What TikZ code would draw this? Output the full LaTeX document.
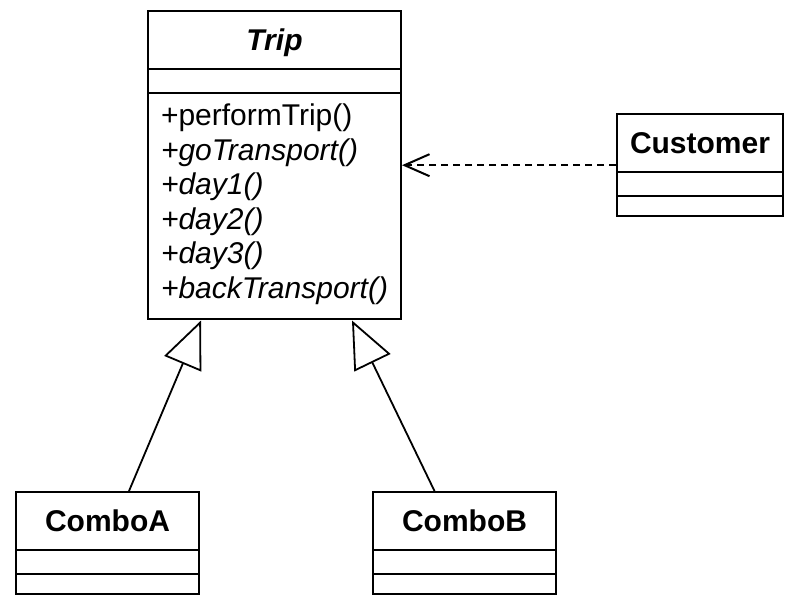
\documentclass[tikz,border=0pt]{standalone}
\usepackage{fontspec}
\setmainfont{Liberation Sans}
\usetikzlibrary{shapes.multipart,arrows.meta}
\tikzset{
	umlclass/.style={draw, line width=1pt, rectangle split, rectangle split parts=3,
		rectangle split part align={center,left,left}, align=left, anchor=north west,
		inner xsep=6.5pt, inner ysep=0pt, minimum width=#1,
		font=\fontsize{15}{17.25}\selectfont},
	inherit/.style={line width=0.9pt, -{Triangle[open,length=23.5pt,width=20pt]}},
	depend/.style={line width=1pt, dash pattern=on 3.5pt off 2.5pt,
		-{Straight Barb[length=12.5pt,width=11pt]}},
}
\newcommand{\titlestrut}{\rule[-8.45pt]{0pt}{27.9pt}}
\newcommand{\attrstrut}{\rule{0pt}{10.9pt}}
\newcommand{\opstrut}{\rule{0pt}{9.4pt}}
\begin{document}
\begin{tikzpicture}[x=0.5pt,y=-0.5pt]
	\useasboundingbox (0,0) rectangle (787,603);
	% abstract class
	\node[umlclass=126.5pt] (trip) at (147,10)
		{\titlestrut\textbf{\textit{Trip}}
		\nodepart{second}\attrstrut
		\nodepart{third}\rule{0pt}{16pt}+performTrip()\\
		\textit{+goTransport()}\\
		\textit{+day1()}\\
		\textit{+day2()}\\
		\textit{+day3()}\\
		\textit{+backTransport()}\rule[-10.2pt]{0pt}{10.2pt}};
	% client
	\node[umlclass=81.5pt] (customer) at (616,113)
		{\titlestrut\textbf{Customer}\nodepart{second}\attrstrut\nodepart{third}\opstrut};
	% concrete classes
	\node[umlclass=91.5pt] (comboA) at (15,491)
		{\titlestrut\textbf{ComboA}\nodepart{second}\attrstrut\nodepart{third}\opstrut};
	\node[umlclass=91.5pt] (comboB) at (372,491)
		{\titlestrut\textbf{ComboB}\nodepart{second}\attrstrut\nodepart{third}\opstrut};
	
	% generalisation
	\draw[inherit] ([xshift=10.75pt]comboA.north) -- ([xshift=-36.75pt]trip.south);
	\draw[inherit] ([xshift=-15pt]comboB.north) -- ([xshift=38.75pt]trip.south);
	% dependency
	\draw[depend] (customer.west) -- (customer.west -| trip.east);
\end{tikzpicture}
\end{document}
